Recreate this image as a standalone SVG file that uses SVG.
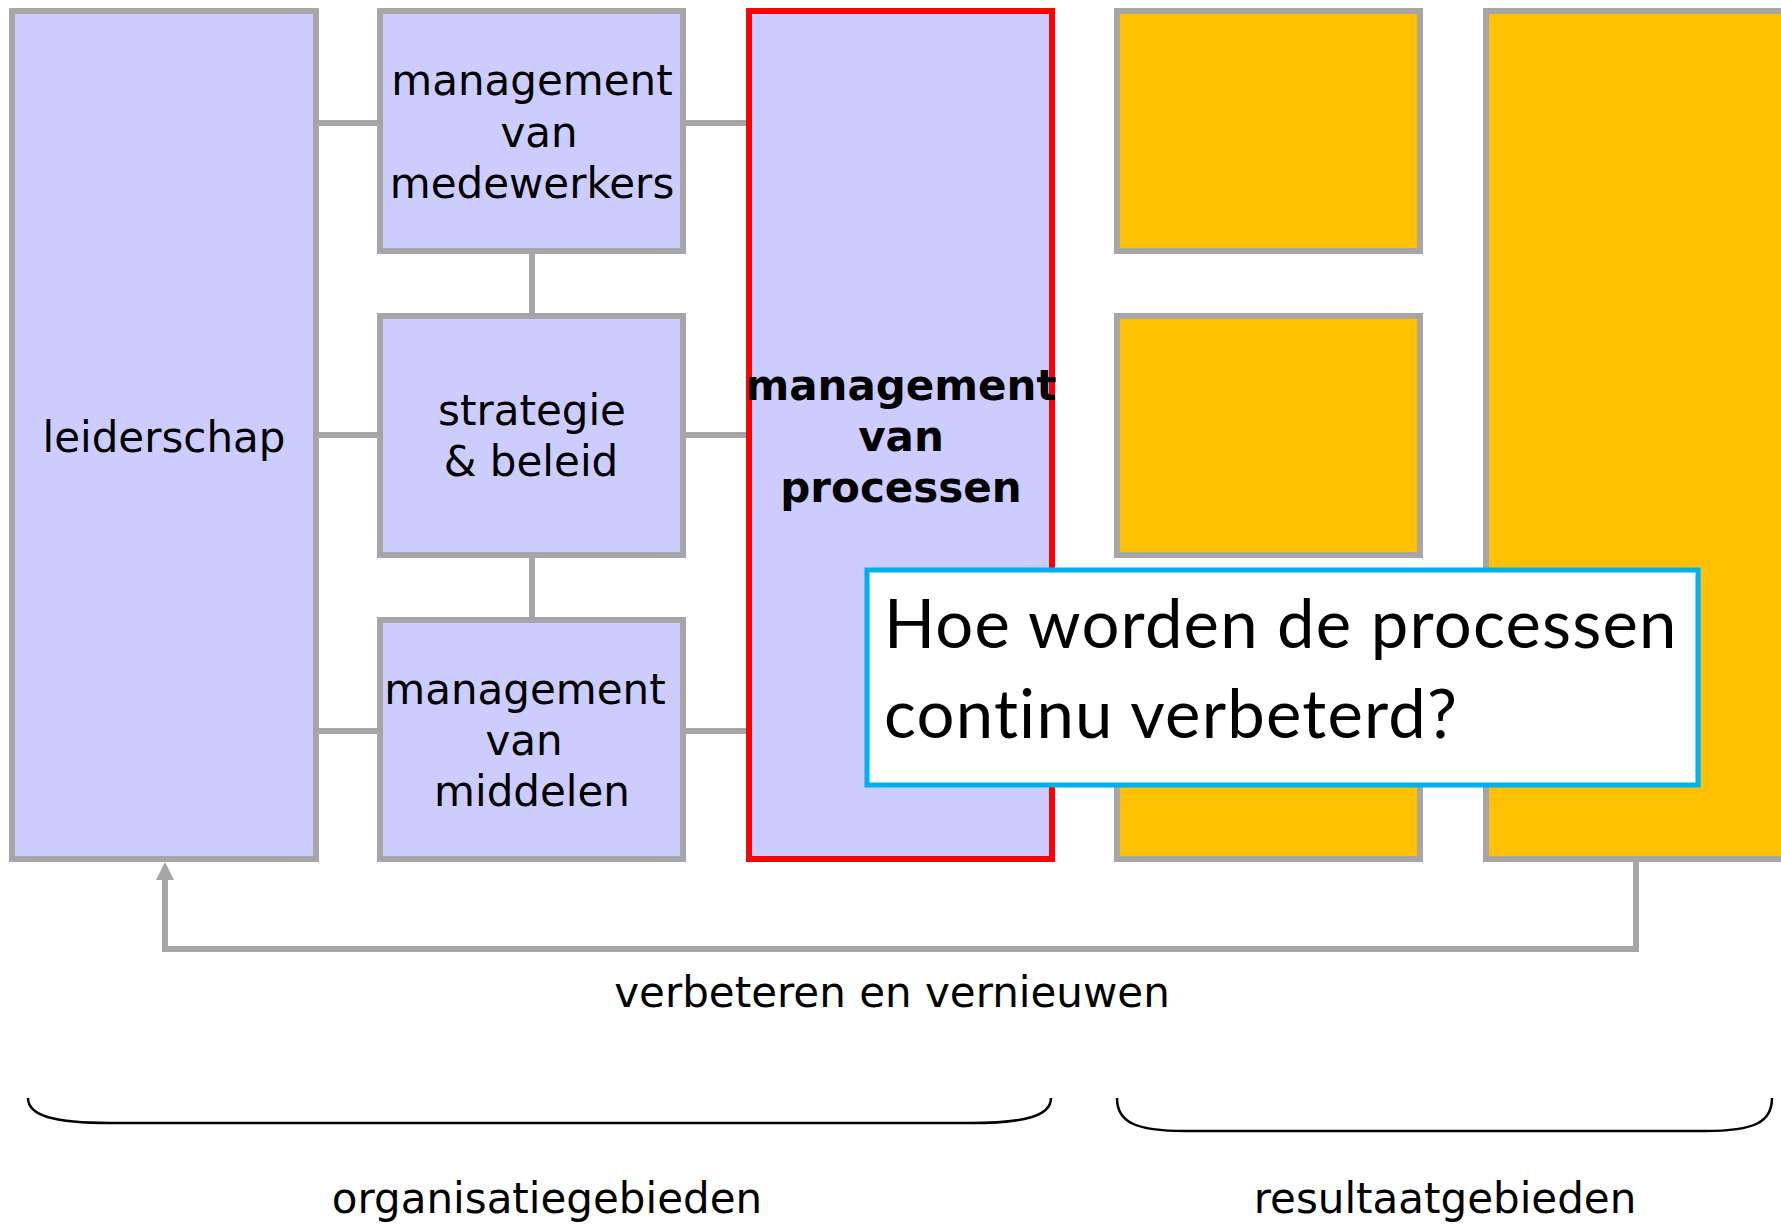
<svg xmlns="http://www.w3.org/2000/svg" width="1781" height="1224" viewBox="0 0 1781 1224">
<style>
.org{fill:#CCCCFF;stroke:#A6A6A6;stroke-width:6}
.res{fill:#FFC000;stroke:#A6A6A6;stroke-width:6}
.sel{fill:#CCCCFF;stroke:#FF0000;stroke-width:6}
.con{stroke:#A6A6A6;stroke-width:6;fill:none}
.t{font-family:"DejaVu Sans",Verdana,sans-serif;font-size:42px;fill:#000;text-anchor:middle}
.b{font-weight:bold}
.brace{fill:none;stroke:#000;stroke-width:2.5}
.q{font-family:Lato,"Open Sans",sans-serif;font-size:67px;letter-spacing:1.2px;fill:#000}
</style>
<g id="connectors">
<line class="con" x1="316" y1="123" x2="380" y2="123"/>
<line class="con" x1="316" y1="435" x2="380" y2="435"/>
<line class="con" x1="316" y1="731" x2="380" y2="731"/>
<line class="con" x1="683" y1="123" x2="749" y2="123"/>
<line class="con" x1="683" y1="435" x2="749" y2="435"/>
<line class="con" x1="683" y1="731" x2="749" y2="731"/>
<line class="con" x1="532" y1="251" x2="532" y2="316"/>
<line class="con" x1="532" y1="555" x2="532" y2="620"/>
<path class="con" d="M1636,862 L1636,949 L165,949 L165,880"/>
<path d="M165,862 L156,880 L174,880 Z" fill="#A6A6A6"/>
</g>
<g id="leiderschap">
<rect class="org" x="12" y="11" width="304" height="848"/>
<text class="t" x="164" y="452">leiderschap</text>
</g>
<g id="medewerkers">
<rect class="org" x="380" y="11" width="303" height="240"/>
<text class="t" x="532" y="95">management</text>
<text class="t" x="539" y="147">van</text>
<text class="t" x="532" y="198">medewerkers</text>
</g>
<g id="strategie">
<rect class="org" x="380" y="316" width="303" height="239"/>
<text class="t" x="532" y="425">strategie</text>
<text class="t" x="531" y="476">&amp; beleid</text>
</g>
<g id="middelen">
<rect class="org" x="380" y="620" width="303" height="239"/>
<text class="t" x="525" y="704">management</text>
<text class="t" x="524" y="755">van</text>
<text class="t" x="532" y="806">middelen</text>
</g>
<g id="processen">
<rect class="sel" x="749" y="11" width="303" height="848"/>
<text class="t b" x="901" y="400">management</text>
<text class="t b" x="901" y="451">van</text>
<text class="t b" x="901" y="502">processen</text>
</g>
<g id="res1"><rect class="res" x="1117" y="11" width="303" height="240"/></g>
<g id="res2"><rect class="res" x="1117" y="316" width="303" height="239"/></g>
<g id="res3"><rect class="res" x="1117" y="620" width="303" height="239"/></g>
<g id="res4"><rect class="res" x="1486" y="11" width="320" height="848"/></g>
<g id="callout">
<rect x="867" y="570" width="831" height="215" fill="#FFFFFF" stroke="#00B0F0" stroke-width="5"/>
<text class="q" x="884" y="648">Hoe worden de processen</text>
<text class="q" x="884" y="738">continu verbeterd?</text>
</g>
<g id="labels">
<text class="t" x="892" y="1007">verbeteren en vernieuwen</text>
<path class="brace" d="M28,1098 C28,1116 55,1123 110,1123 L970,1123 C1025,1123 1051,1116 1051,1098"/>
<path class="brace" d="M1117,1098 C1117,1122 1135,1131 1185,1131 L1705,1131 C1755,1131 1772,1122 1772,1098"/>
<text class="t" x="547" y="1213">organisatiegebieden</text>
<text class="t" x="1445" y="1213">resultaatgebieden</text>
</g>
</svg>
